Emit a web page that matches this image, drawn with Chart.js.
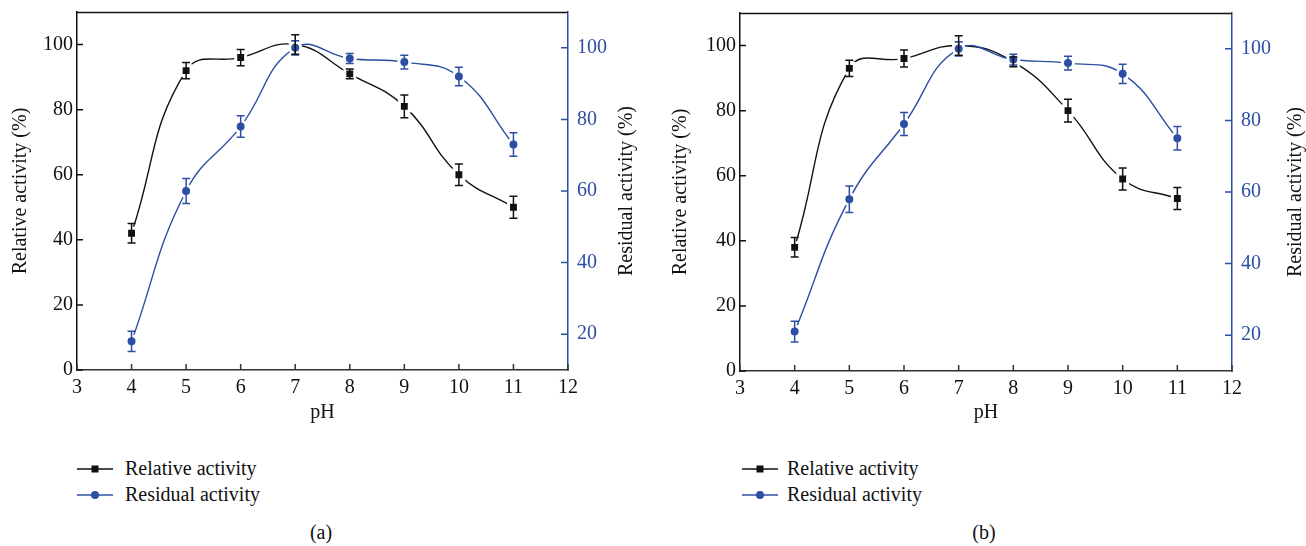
<!DOCTYPE html>
<html>
<head>
<meta charset="utf-8">
<script src="https://cdn.jsdelivr.net/npm/chart.js@4.4.1/dist/chart.umd.min.js"></script>
<style>
  body { margin: 0; background: #fff; width: 1306px; height: 546px; position: relative; overflow: hidden; font-family: "Liberation Serif", Tinos, "Times New Roman", "DejaVu Serif", serif; color: #111; }
  canvas { position: absolute; top: 0; }
  .legend { position: absolute; top: 0; font-size: 20px; }
  .legend .row { position: absolute; left: 0; height: 24px; line-height: 24px; white-space: nowrap; }
  .legend svg { position: absolute; left: 0; top: 0; }
  .legend span { position: absolute; top: 0; }
  .caption { position: absolute; top: 520px; width: 60px; margin-left: -30px; text-align: center; font-size: 20px; line-height: 24px; }
</style>
</head>
<body>
<canvas id="chartA" width="653" height="440" style="left:0"></canvas>
<canvas id="chartB" width="653" height="440" style="left:653px"></canvas>
<div class="legend" id="legendA" style="left:77px"></div>
<div class="legend" id="legendB" style="left:742px"></div>
<div class="caption" style="left:321px">(a)</div>
<div class="caption" style="left:984px">(b)</div>
<script>
// pH values (x)
const phValues = [4, 5, 6, 7, 8, 9, 10, 11];

// panel (a)
const relativeA = [42, 92, 96, 100, 91, 81, 60, 50];
const relativeAErr = [3, 2.5, 2.5, 3, 1.5, 3.5, 3.3, 3.4];
const residualA = [18, 60, 78, 100, 97, 96, 92, 73];
const residualAErr = [2.8, 3.5, 3, 2, 1.4, 1.9, 2.6, 3.3];

// panel (b)
const relativeB = [38, 93, 96, 100, 95, 80, 59, 53];
const relativeBErr = [3, 2.5, 2.6, 3, 1.5, 3.5, 3.4, 3.4];
const residualB = [21, 58, 79, 100, 97, 96, 93, 75];
const residualBErr = [2.9, 3.7, 3.2, 2, 1.5, 1.9, 2.7, 3.3];

// tick labels
const xTicks = [3, 4, 5, 6, 7, 8, 9, 10, 11, 12];
const leftTicks = [0, 20, 40, 60, 80, 100];
const rightTicks = [20, 40, 60, 80, 100];

const BLUE = '#2c4ea3';
const BLACK = '#111111';
const FAMILY = '"Liberation Serif", Tinos, "Times New Roman", "DejaVu Serif", serif';
const FONT = { family: FAMILY, size: 20 };

Chart.defaults.font = FONT;

// error bars, inward ticks, top border and the right axis title
const framePlugin = {
  id: 'frame',
  afterDatasetsDraw(chart) {
    const ctx = chart.ctx;
    chart.data.datasets.forEach((ds, i) => {
      const meta = chart.getDatasetMeta(i);
      const scale = chart.scales[ds.yAxisID];
      ctx.save();
      ctx.strokeStyle = ds.borderColor;
      ctx.lineWidth = 1.5;
      meta.data.forEach((pt, j) => {
        const v = ds.data[j].y;
        const top = scale.getPixelForValue(v + ds.errors[j]);
        const bot = scale.getPixelForValue(v - ds.errors[j]);
        ctx.beginPath();
        ctx.moveTo(pt.x, top); ctx.lineTo(pt.x, bot);
        ctx.moveTo(pt.x - 4, top); ctx.lineTo(pt.x + 4, top);
        ctx.moveTo(pt.x - 4, bot); ctx.lineTo(pt.x + 4, bot);
        ctx.stroke();
      });
      ctx.restore();
    });
  },
  afterDraw(chart, args, opts) {
    const ctx = chart.ctx;
    const a = chart.chartArea;
    const {x, y, y2} = chart.scales;
    ctx.save();
    ctx.lineWidth = 1.5;
    // top border
    ctx.strokeStyle = BLACK;
    ctx.beginPath(); ctx.moveTo(a.left, a.top + 0.5); ctx.lineTo(a.right, a.top + 0.5); ctx.stroke();
    // inward ticks
    ctx.strokeStyle = '#333';
    ctx.beginPath();
    x.ticks.forEach(t => { const px = x.getPixelForValue(t.value); ctx.moveTo(px, a.bottom); ctx.lineTo(px, a.bottom - 6); });
    ctx.stroke();
    ctx.strokeStyle = BLACK;
    ctx.beginPath();
    y.ticks.forEach(t => { const py = y.getPixelForValue(t.value); ctx.moveTo(a.left, py); ctx.lineTo(a.left + 6, py); });
    ctx.stroke();
    ctx.strokeStyle = BLUE;
    ctx.beginPath();
    y2.ticks.forEach(t => { const py = y2.getPixelForValue(t.value); ctx.moveTo(a.right, py); ctx.lineTo(a.right - 7, py); });
    ctx.stroke();
    // right title, reading upward like the left one
    ctx.translate(opts.titleX, (a.top + a.bottom) / 2);
    ctx.rotate(-Math.PI / 2);
    ctx.fillStyle = BLACK;
    ctx.font = '20px ' + FAMILY;
    ctx.textAlign = 'center';
    ctx.textBaseline = 'middle';
    ctx.fillText(opts.title, 0, 0);
    ctx.restore();
  }
};

function makePanel(id, rel, relErr, res, resErr, g) {
  new Chart(document.getElementById(id), {
    type: 'line',
    data: {
      datasets: [
        {
          label: 'Residual activity',
          data: phValues.map((p, i) => ({ x: p, y: res[i] })),
          errors: resErr,
          yAxisID: 'y2',
          order: 0,
          borderColor: BLUE,
          borderWidth: 1.4,
          tension: 0.45,
          pointStyle: 'circle',
          pointRadius: 5.5,
          pointBackgroundColor: BLUE,
          pointBorderColor: '#fff',
          pointBorderWidth: 3
        },
        {
          label: 'Relative activity',
          data: phValues.map((p, i) => ({ x: p, y: rel[i] })),
          errors: relErr,
          yAxisID: 'y',
          order: 1,
          borderColor: BLACK,
          borderWidth: 1.4,
          tension: 0.45,
          pointStyle: 'rect',
          pointRadius: 7,
          pointBackgroundColor: BLACK,
          pointBorderColor: '#fff',
          pointBorderWidth: 3
        }
      ]
    },
    options: {
      responsive: false,
      animation: false,
      layout: { padding: { top: g.top, left: 0, right: 0, bottom: 0 } },
      plugins: {
        legend: { display: false },
        tooltip: { enabled: false },
        frame: { titleX: g.rightTitleX, title: 'Residual activity (%)' }
      },
      scales: {
        x: {
          type: 'linear', min: 3, max: 12,
          afterBuildTicks: s => { s.ticks = xTicks.map(v => ({ value: v })); },
          afterFit: s => { s.height = 440 - g.bottom; s.paddingLeft = 0; s.paddingRight = 0; },
          grid: { display: false, drawTicks: false },
          border: { color: '#333', width: 1.5 },
          ticks: { color: BLACK, padding: 6, maxRotation: 0 },
          title: { display: true, text: 'pH', color: BLACK, padding: { top: 0, bottom: 15 } }
        },
        y: {
          position: 'left', min: 0, max: 110,
          afterBuildTicks: s => { s.ticks = leftTicks.map(v => ({ value: v })); },
          afterFit: s => { s.width = g.left; s.paddingTop = 0; s.paddingBottom = 0; },
          grid: { display: false, drawTicks: false },
          border: { color: BLACK, width: 1.5 },
          ticks: { color: BLACK, padding: 4 },
          title: { display: true, text: 'Relative activity (%)', color: BLACK, padding: { top: g.leftTitlePad, bottom: 0 } }
        },
        y2: {
          position: 'right', min: 10, max: 110,
          afterBuildTicks: s => { s.ticks = rightTicks.map(v => ({ value: v })); },
          afterFit: s => { s.width = 653 - g.right; s.paddingTop = 0; s.paddingBottom = 0; },
          grid: { display: false, drawTicks: false },
          border: { color: BLUE, width: 1.5 },
          ticks: { color: BLUE, padding: 9 }
        }
      }
    },
    plugins: [framePlugin]
  });
}

function makeLegend(id, textLeft) {
  const el = document.getElementById(id);
  const rows = [
    { top: 455.5, label: 'Relative activity', color: BLACK, mark: '<rect x="14.5" y="9.5" width="7" height="7" fill="' + BLACK + '"/>' },
    { top: 482, label: 'Residual activity', color: BLUE, mark: '<circle cx="18" cy="13" r="4" fill="' + BLUE + '"/>' }
  ];
  rows.forEach(r => {
    const row = document.createElement('div');
    row.className = 'row';
    row.style.top = r.top + 'px';
    row.innerHTML = '<svg width="36" height="24"><line x1="0" y1="13" x2="36" y2="13" stroke="' + r.color + '" stroke-width="1.3"/>' + r.mark + '</svg>' +
      '<span style="left:' + textLeft + 'px">' + r.label + '</span>';
    el.appendChild(row);
  });
}

makePanel('chartA', relativeA, relativeAErr, residualA, residualAErr,
  { left: 77, right: 568, top: 12, bottom: 370, leftTitlePad: 9, rightTitleX: 627 });
makePanel('chartB', relativeB, relativeBErr, residualB, residualBErr,
  { left: 87, right: 579, top: 13, bottom: 371, leftTitlePad: 16, rightTitleX: 643 });

makeLegend('legendA', 48);
makeLegend('legendB', 45);
</script>
</body>
</html>
